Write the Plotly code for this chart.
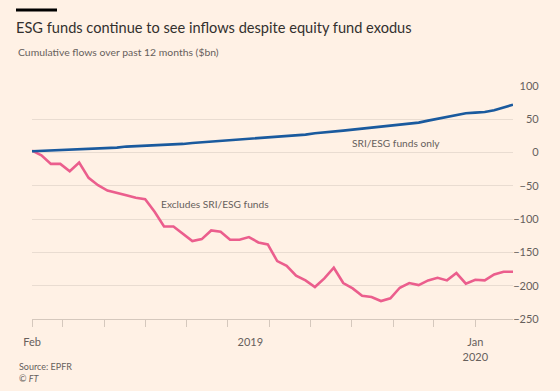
import pandas as pd
import plotly.graph_objects as go

# Weekly data points (EPFR weeks), Feb 2019 - Jan 2020
dates = pd.date_range("2019-02-06", periods=52, freq="7D")

sri_esg_only = [2, 2.5, 3, 4, 4.5, 5, 5.5, 6, 7, 7.5, 9, 9.5, 10, 11, 11.5, 12,
                13, 14.5, 15.5, 16.5, 17.5, 19, 20, 21, 22, 23, 24, 25, 26, 27,
                29, 30, 31.5, 33, 34.5, 36, 37.5, 39, 40, 42, 43.5, 45, 48, 51,
                53.5, 56, 59, 60, 61, 63.5, 68, 72]

excludes_sri_esg = [3, -4, -17, -17, -28, -15, -38, -49, -57, -60, -64, -68,
                    -70, -89, -111, -111, -122, -133, -130, -117, -119, -131,
                    -131, -127, -135, -138, -163, -170, -185, -192, -202, -189,
                    -173, -196, -204, -215, -217, -223, -219, -203, -196, -199,
                    -192, -188, -192, -181, -197, -191, -192, -183, -179, -179]

y_ticks = [100, 50, 0, -50, -100, -150, -200, -250]
x_tick_marks = ["2019-02-06", "2019-03-01", "2019-04-01", "2019-05-01", "2019-06-01",
                "2019-07-01", "2019-08-01", "2019-09-01", "2019-10-01", "2019-11-01",
                "2019-12-01", "2020-01-01"]
x_label_pos = ["2019-02-06", "2019-07-18", "2020-01-01"]
x_label_text = ["Feb", "2019", "Jan<br>2020"]

BG = "#fff1e5"
GRID = "#e9dcd1"
AXIS = "#d5c8bd"
TEXT = "#66605c"
FONT = "Lato"

fig = go.Figure()
fig.add_trace(go.Scatter(x=dates, y=excludes_sri_esg, mode="lines", name="Excludes SRI/ESG funds",
                         line=dict(color="#eb5e8d", width=2.6), hoverinfo="skip",
                         xaxis="x", yaxis="y"))
fig.add_trace(go.Scatter(x=dates, y=sri_esg_only, mode="lines", name="SRI/ESG funds only",
                         line=dict(color="#1a5a9e", width=2.6), hoverinfo="skip",
                         xaxis="x2", yaxis="y2"))

x_range = [str(dates[0].date()), str(dates[-1].date())]

fig.update_layout(
    width=560, height=391,
    paper_bgcolor=BG, plot_bgcolor=BG,
    margin=dict(l=32, r=16, t=86, b=72),
    showlegend=False,
    font=dict(family=FONT, color=TEXT, size=11),
    title=dict(text="ESG funds continue to see inflows despite equity fund exodus",
               x=16 / 560, xanchor="left", xref="container",
               y=1 - 28 / 391, yanchor="middle", yref="container",
               font=dict(family=FONT, size=14.6, color="#33302e")),
    xaxis=dict(type="date", range=x_range, domain=[0, 481 / 512],
               tickmode="array", tickvals=x_tick_marks, ticktext=[""] * len(x_tick_marks),
               ticks="outside", ticklen=7, tickwidth=1, tickcolor=AXIS,
               showline=True, linecolor=AXIS, linewidth=1,
               showgrid=False, zeroline=False),
    xaxis2=dict(type="date", range=x_range, overlaying="x", anchor="y", side="bottom",
                domain=[0, 481 / 512],
                tickmode="array", tickvals=x_label_pos, ticktext=x_label_text,
                ticks="outside", ticklen=13, tickcolor="rgba(0,0,0,0)",
                showline=False, showgrid=False, zeroline=False,
                tickfont=dict(family=FONT, size=11, color=TEXT)),
    yaxis=dict(range=[-250, 100], tickmode="array", tickvals=y_ticks,
               showticklabels=False, ticks="",
               showgrid=True, gridcolor=GRID, gridwidth=1,
               zeroline=False, showline=False),
    yaxis2=dict(range=[-250, 100], overlaying="y", anchor="free", position=0.996,
                side="left", tickmode="array", tickvals=y_ticks,
                ticks="outside", ticklen=1, tickcolor="rgba(0,0,0,0)",
                showgrid=False, zeroline=False, showline=False,
                tickfont=dict(family=FONT, size=11, color=TEXT)),
    annotations=[
        dict(text="Cumulative flows over past 12 months ($bn)", xref="paper", yref="paper",
             x=(16 - 32) / 512, y=(391 - 72 - 52) / 233, xanchor="left", yanchor="middle",
             showarrow=False, font=dict(family=FONT, size=10.4, color=TEXT)),
        dict(text="SRI/ESG funds only", x="2019-11-03", y=14.6, xref="x", yref="y",
             showarrow=False, xanchor="center", yanchor="middle",
             font=dict(family=FONT, size=10.2, color=TEXT)),
        dict(text="Excludes SRI/ESG funds", x="2019-06-22", y=-76.6, xref="x", yref="y",
             showarrow=False, xanchor="center", yanchor="middle",
             font=dict(family=FONT, size=10.2, color=TEXT)),
        dict(text="Source: EPFR", xref="paper", yref="paper",
             x=(17 - 32) / 512, y=(391 - 72 - 366) / 233, xanchor="left", yanchor="middle",
             showarrow=False, font=dict(family=FONT, size=9, color=TEXT)),
        dict(text="© <i>FT</i>", xref="paper", yref="paper",
             x=(17 - 32) / 512, y=(391 - 72 - 378) / 233, xanchor="left", yanchor="middle",
             showarrow=False, font=dict(family=FONT, size=9, color=TEXT)),
    ],
    shapes=[
        dict(type="line", xref="paper", yref="paper",
             x0=(16 - 32) / 512, x1=(57 - 32) / 512,
             y0=(391 - 72 - 10) / 233, y1=(391 - 72 - 10) / 233,
             line=dict(color="#000000", width=3)),
    ],
)

fig.write_html("out.html", config={"displayModeBar": False},
               post_script="document.body.style.margin='0';")
